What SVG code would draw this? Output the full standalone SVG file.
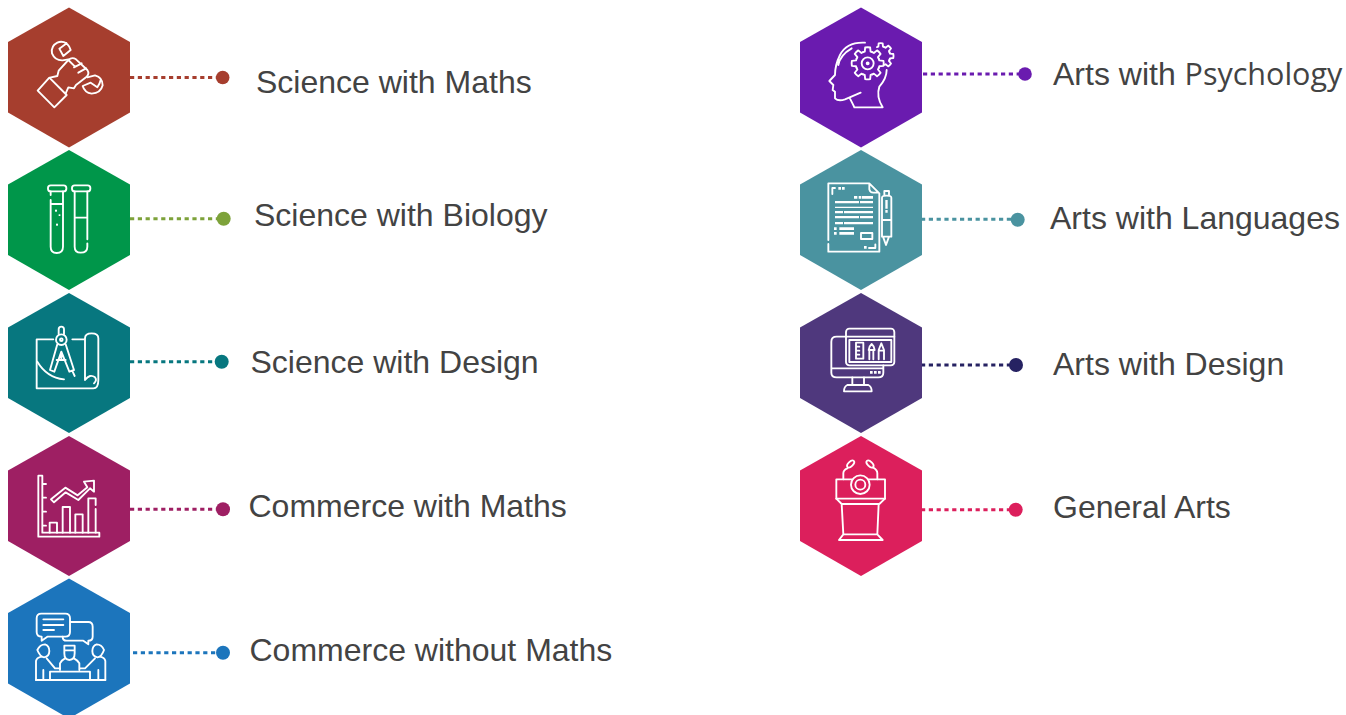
<svg xmlns="http://www.w3.org/2000/svg" xmlns:xlink="http://www.w3.org/1999/xlink" width="1346" height="715" viewBox="0 0 1346 715">
<style>
.bg{fill:#fff}
.ic{fill:none;stroke:#fff;stroke-width:5.6;stroke-linecap:round;stroke-linejoin:round}
.ic .f{fill:#fff;stroke:none}
.lbl{font-family:"Liberation Sans",Arial,sans-serif;font-size:32px;fill:#434343}
.alt{font-family:"Open Sans","Noto Sans",sans-serif;font-size:30.5px}
.conn{fill:none;stroke-width:3;stroke-dasharray:4.2 3.6}
</style>
<defs>
<polygon id="hex" points="61,0 122,34.5 122,105 61,140 0,105 0,34.5"/>
<path id="tooth" d="M33.3,-13.8A36,36 0 0 1 34.9,-8.7L47.4,-7.5Q49,0 47.4,7.5L34.9,8.7A36,36 0 0 1 33.3,13.8"/>
</defs>
<rect class="bg" width="1346" height="715"/>
<g id="connectors">
<path class="conn" stroke="#A63E2E" d="M130,77.500H218"/><circle cx="222.700" cy="77.500" r="6.800" fill="#A63E2E"/>
<path class="conn" stroke="#7DA23A" d="M130,218.700H219"/><circle cx="223.700" cy="218.700" r="7" fill="#7DA23A"/>
<path class="conn" stroke="#07777F" d="M130,361.700H216"/><circle cx="221.700" cy="361.700" r="7" fill="#07777F"/>
<path class="conn" stroke="#9E1F63" d="M130,509.300H218"/><circle cx="223" cy="509.300" r="7" fill="#9E1F63"/>
<path class="conn" stroke="#1C75BC" d="M133,652.700H218"/><circle cx="223" cy="652.700" r="7" fill="#1C75BC"/>
<path class="conn" stroke="#6A1BAF" d="M923,74H1020"/><circle cx="1025" cy="74" r="6.800" fill="#6A1BAF"/>
<path class="conn" stroke="#4A93A0" d="M921,219.300H1012"/><circle cx="1017.700" cy="219.700" r="7" fill="#4A93A0"/>
<path class="conn" stroke="#262262" d="M921,365H1010"/><circle cx="1016" cy="365" r="7" fill="#262262"/>
<path class="conn" stroke="#DC1F5C" d="M921,509.700H1010"/><circle cx="1015.700" cy="509.700" r="7" fill="#DC1F5C"/>
</g>
<g id="node-science-maths">
<use xlink:href="#hex" href="#hex" x="8" y="7.500" fill="#A63E2E"/>
<g class="ic" transform="scale(.33333)">
<polygon points="113,272 148,233 200,285 163,322"/>
<path d="M150,233L172,228L176,212L205,180Q216,170 228,178L262,210Q270,222 258,232L228,255L222,265L205,262L197,280"/>
<path d="M222,202L245,190M235,218L258,205M205,180L225,200"/>
<path d="M200,130Q185,122 172,128Q152,138 156,160Q165,182 188,181L205,178M200,130L178,146L190,168L212,150Q210,140 200,130"/>
<path d="M262,232L285,226Q308,232 308,256Q302,280 275,281Q254,278 248,258L272,248L292,262Q300,250 302,240"/>
</g>
<text class="lbl" x="256" y="92.500">Science with Maths</text>
</g>
<g id="node-science-biology">
<use xlink:href="#hex" href="#hex" x="8" y="150" fill="#00964A"/>
<g class="ic" transform="translate(0,150) scale(.33333)">
<rect x="144" y="106" width="55" height="18" rx="8"/>
<path d="M152,124V135M152,150V290Q152,309 170,309Q189,309 189,290V124M152,162H189"/>
<rect class="f" x="165" y="179" width="6" height="6"/><rect class="f" x="176" y="193" width="5" height="5"/><rect class="f" x="168" y="221" width="6" height="6"/>
<rect x="216" y="106" width="55" height="18" rx="8"/>
<path d="M224,124V290Q224,308 242,308Q262,308 262,290V280M262,268V124M224,203H262"/>
</g>
<text class="lbl" x="254" y="226">Science with Biology</text>
</g>
<g id="node-science-design">
<use xlink:href="#hex" href="#hex" x="8" y="293" fill="#07777F"/>
<g class="ic" transform="translate(0,290) scale(.33333)">
<path d="M160,148H110V295H280M217,148H255M255,270V145Q255,130 275,130Q295,130 295,145V270Q295,295 280,295M255,270Q270,250 285,262Q292,270 282,280"/>
<path d="M112,215Q140,262 192,268"/>
<circle cx="184" cy="149" r="16"/><circle cx="184" cy="149" r="4"/>
<path d="M176,133V118Q176,110 184,110Q192,110 192,118V133"/>
<path d="M172,163L150,240L163,245L184,185L208,245L222,240L197,163M170,210H197M218,245L224,258M184,185V210"/>
</g>
<text class="lbl" x="250.500" y="373">Science with Design</text>
</g>
<g id="node-commerce-maths">
<use xlink:href="#hex" href="#hex" x="8" y="436" fill="#9E1F63"/>
<g class="ic" transform="translate(0,435) scale(.33333)">
<path d="M115,122H127V293H298V305H115ZM127,147H138M127,188H138M127,230H138M127,272H138"/>
<path d="M149,293V263H171V293M188,293V216H210V293M226,293V238H248V293M265,293V190H287V210M287,222V293"/>
<path d="M153,193L196,158L233,181L262,157L252,140L282,137V170L270,160L235,195L197,172L162,202Z"/>
</g>
<text class="lbl" x="248.500" y="517">Commerce with Maths</text>
</g>
<g id="node-commerce-no-maths">
<use xlink:href="#hex" href="#hex" x="8" y="578.500" fill="#1C75BC"/>
<g class="ic" transform="translate(0,575) scale(.33333)">
<path d="M124,116H196Q210,116 210,130V171Q210,185 196,185H142L125,197V185Q110,185 110,171V130Q110,116 124,116Z"/>
<path d="M130,133H190M130,150H190M130,165H162"/>
<path d="M212,141H265Q278,141 278,155V185Q278,197 265,197V208L250,197H200Q188,197 188,185"/>
<path d="M193,212H224V235Q224,255 208,255Q193,255 193,235ZM193,226H224M180,285V265Q185,255 195,250M238,285V265Q232,255 222,250"/>
<path d="M112,225Q120,208 135,208Q148,212 148,228Q148,245 132,247Q120,245 112,225ZM312,225Q305,208 290,208Q277,212 277,228Q277,245 293,247Q305,245 312,225"/>
<path d="M108,315V258Q110,248 125,245M140,250L165,280H180M316,315V258Q314,248 300,245M285,250L255,280H240"/>
<path d="M150,290H270V315M108,315H316M150,290V315M130,285V315M295,285V315"/>
</g>
<text class="lbl" x="249.500" y="661">Commerce without Maths</text>
</g>
<g id="node-arts-psychology">
<use xlink:href="#hex" href="#hex" x="800" y="7.500" fill="#6A1BAF"/>
<g class="ic" transform="translate(790,0) scale(.33333)">
<path d="M225,128Q170,125 150,165Q135,195 135,225L118,243L130,255L128,270L135,275L135,295Q145,305 165,298L212,278M180,296Q190,315 193,322H278Q258,290 268,260Q290,235 290,210M145,195Q150,165 185,145"/>
<g transform="translate(233,190)">
<use xlink:href="#tooth" href="#tooth"/><use xlink:href="#tooth" href="#tooth" transform="rotate(45)"/><use xlink:href="#tooth" href="#tooth" transform="rotate(90)"/><use xlink:href="#tooth" href="#tooth" transform="rotate(135)"/><use xlink:href="#tooth" href="#tooth" transform="rotate(180)"/><use xlink:href="#tooth" href="#tooth" transform="rotate(225)"/><use xlink:href="#tooth" href="#tooth" transform="rotate(270)"/><use xlink:href="#tooth" href="#tooth" transform="rotate(315)"/>
<circle r="18"/><circle r="3"/>
</g>
<g transform="translate(272,168) scale(.8)" style="stroke-width:7">
<use xlink:href="#tooth" href="#tooth" transform="rotate(-90)"/><use xlink:href="#tooth" href="#tooth" transform="rotate(-45)"/><use xlink:href="#tooth" href="#tooth"/><use xlink:href="#tooth" href="#tooth" transform="rotate(45)"/>
</g>
</g>
<text class="lbl" x="1053" y="84.500">Arts with <tspan class="alt">Psychology</tspan></text>
</g>
<g id="node-arts-languages">
<use xlink:href="#hex" href="#hex" x="800" y="150" fill="#4A93A0"/>
<g class="ic" transform="translate(790,150) scale(.33333)">
<path d="M115,270V100H238L268,130V305H115V282M238,103V118Q240,128 250,128H266M135,114H127V132"/>
<path class="f" d="M145,111h8v8h-8zM156,111h8v8h-8zM192,138h10v8h-10zM206,138h8v8h-8zM216,138h33v8h-33zM135,153h72v7h-72zM210,153h39v7h-39zM135,170h114v4h-114zM135,183h24v7h-24zM162,183h87v7h-87zM135,198h72v7h-72zM210,198h39v7h-39zM135,216h24v7h-24zM162,216h87v7h-87zM132,232h8v8h-8zM148,232h44v8h-44zM132,246h8v8h-8zM148,246h44v8h-44zM222,288h8v8h-8zM286,150h7v26h-7zM286,180h7v8h-7z"/>
<rect x="213" y="249" width="34" height="18"/>
<path d="M237,294H256V283"/>
<path d="M283,123h14v14h-14zM276,143Q276,137 290,137Q304,137 304,143V260H276ZM276,210H304M279,260L288,285L297,260"/>
</g>
<text class="lbl" x="1050" y="229">Arts with Languages</text>
</g>
<g id="node-arts-design">
<use xlink:href="#hex" href="#hex" x="800" y="293" fill="#4F387D"/>
<g class="ic" transform="translate(790,290) scale(.33333)">
<path d="M168,140H140Q124,140 124,155V248Q124,262 140,262H265Q280,262 280,248V226M124,235H280"/>
<rect x="168" y="116" width="145" height="110" rx="10"/>
<path d="M168,140H313"/>
<rect x="178" y="150" width="126" height="66"/>
<path d="M198,158H220V206H198ZM198,170H208M198,182H208M198,194H208"/>
<path d="M238,208V182M250,208V182M236,180Q236,170 245,162Q254,170 254,180Z"/>
<path d="M266,208V180L274,160L282,180V208M266,182H282"/>
<path class="f" d="M240,243h8v8h-8zM252,243h8v8h-8zM264,243h8v8h-8z"/>
<path d="M187,262V285M222,262V285M172,285H235Q245,290 245,304H162Q162,290 172,285Z"/>
</g>
<text class="lbl" x="1053" y="375">Arts with Design</text>
</g>
<g id="node-general-arts">
<use xlink:href="#hex" href="#hex" x="800" y="436" fill="#DC1F5C"/>
<g class="ic" transform="translate(790,435) scale(.33333)">
<rect x="139" y="133" width="146" height="58"/>
<circle cx="211" cy="149" r="28" fill="#DC1F5C"/><circle cx="211" cy="149" r="15"/>
<path d="M160,133V115Q160,105 172,100M262,133V115Q262,105 250,98"/>
<ellipse cx="182" cy="87" rx="13" ry="7" transform="rotate(-45 182 87)"/>
<ellipse cx="240" cy="87" rx="13" ry="7" transform="rotate(45 240 87)"/>
<path d="M139,191L155,207H268L285,191M155,207L160,298M266,207L262,298M160,298L147,315H278L262,298ZM172,298H262"/>
</g>
<text class="lbl" x="1053" y="518">General Arts</text>
</g>
</svg>
